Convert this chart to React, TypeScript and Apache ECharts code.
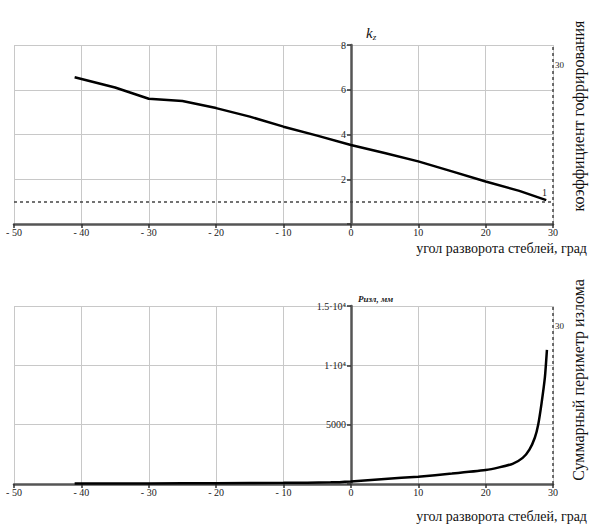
import React, { useEffect, useRef } from "react";
import * as echarts from "echarts";

const angleTop = [-41, -35, -30, -25, -20, -15, -10, -5, 0, 5, 10, 15, 20, 25, 29];
const kzValues = [6.56, 6.1, 5.6, 5.5, 5.18, 4.8, 4.35, 3.95, 3.53, 3.17, 2.8, 2.35, 1.9, 1.48, 1.07];
const angleBottom = [-41, -30, -20, -10, -3, 0, 5, 10, 15, 20, 22, 24, 25.5, 26.5, 27.3, 27.8, 28.3, 28.8, 29.1];
const perimeterValues = [40, 50, 70, 100, 140, 220, 420, 620, 880, 1180, 1400, 1700, 2200, 2900, 3900, 5000, 6800, 9000, 11300];
const bottomTickLabels: Record<number, string> = { 5000: "5000", 10000: "1·10⁴", 15000: "1.5·10⁴" };
const kzRef = 1;

const SERIF = "'Liberation Serif', 'DejaVu Serif', serif";

export default function App() {
  const ref = useRef<HTMLDivElement>(null);
  useEffect(() => {
    const chart = echarts.init(ref.current!, null, { renderer: "svg" });
    const GRID_LEFT = 14;
    const GRID_W = 539;
    const zeroOffset = -Math.round((50 / 80) * GRID_W);
    const xAxisCommon = (gridIndex: number) => ({
      type: "value" as const,
      gridIndex,
      min: -50,
      max: 30,
      interval: 10,
      axisLine: { onZero: true, lineStyle: { color: "#555", width: 2.5 } },
      axisTick: { show: true, inside: false, length: 4, lineStyle: { color: "#333", width: 1.5 } },
      axisLabel: {
        color: "#222",
        fontSize: 10,
        fontFamily: SERIF,
        margin: 3,
        formatter: (v: number) => (v < 0 ? "- " + Math.abs(v) : String(v)),
      },
      splitLine: { show: true, lineStyle: { color: "#c8c8c8", width: 1 } },
    });
    const yAxisCommon = (gridIndex: number, max: number, interval: number, fmt: (v: number) => string) => ({
      type: "value" as const,
      gridIndex,
      min: 0,
      max,
      interval,
      position: "left" as const,
      offset: zeroOffset,
      axisLine: { show: true, onZero: false, lineStyle: { color: "#555", width: 2.5 } },
      axisTick: { show: true, length: 4, lineStyle: { color: "#333", width: 1.5 } },
      axisLabel: { color: "#222", fontSize: 10, fontFamily: SERIF, margin: 5, formatter: fmt },
      splitLine: { show: true, lineStyle: { color: "#c8c8c8", width: 1 } },
    });
    chart.setOption({
      animation: false,
      backgroundColor: "#fff",
      grid: [
        { left: GRID_LEFT, width: GRID_W, top: 45, height: 179, outerBoundsMode: "none", containLabel: false },
        { left: GRID_LEFT, width: GRID_W, top: 306, height: 178, outerBoundsMode: "none", containLabel: false },
      ],
      xAxis: [xAxisCommon(0), xAxisCommon(1)],
      yAxis: [
        yAxisCommon(0, 8, 2, (v: number) => (v === 0 ? "" : String(v))),
        yAxisCommon(1, 15000, 5000, (v: number) => bottomTickLabels[v] || ""),
      ],
      series: [
        {
          type: "line",
          xAxisIndex: 0,
          yAxisIndex: 0,
          data: angleTop.map((x, i) => [x, kzValues[i]]),
          showSymbol: false,
          lineStyle: { color: "#000", width: 2.5 },
          markLine: {
            silent: true,
            symbol: "none",
            label: { show: false },
            lineStyle: { color: "#444", type: [3, 3], width: 1.5 },
            data: [{ yAxis: kzRef }, { xAxis: 30 }],
          },
        },
        {
          type: "line",
          xAxisIndex: 1,
          yAxisIndex: 1,
          data: angleBottom.map((x, i) => [x, perimeterValues[i]]),
          showSymbol: false,
          smooth: 0.2,
          lineStyle: { color: "#000", width: 2.5 },
          markLine: {
            silent: true,
            symbol: "none",
            label: { show: false },
            lineStyle: { color: "#444", type: [3, 3], width: 1.5 },
            data: [{ xAxis: 30 }],
          },
        },
      ],
      graphic: [
        {
          type: "text",
          x: 366,
          y: 24,
          style: {
            text: "{k|k}{s|z}",
            rich: {
              k: { fontFamily: SERIF, fontStyle: "italic", fontSize: 15, fill: "#111" },
              s: { fontFamily: SERIF, fontStyle: "italic", fontSize: 9, fill: "#111", verticalAlign: "bottom", padding: [8, 0, 0, 0] },
            },
          },
        },
        {
          type: "text",
          x: 358,
          y: 294,
          style: { text: "Pизл, мм", font: `italic bold 9px ${SERIF}`, fill: "#222" },
        },
        {
          type: "text",
          x: 542,
          y: 187,
          style: { text: "1", font: `10px ${SERIF}`, fill: "#222" },
        },
        {
          type: "text",
          x: 555,
          y: 60,
          style: { text: "30", font: `9px ${SERIF}`, fill: "#222" },
        },
        {
          type: "text",
          x: 555,
          y: 321,
          style: { text: "30", font: `9px ${SERIF}`, fill: "#222" },
        },
        {
          type: "text",
          x: 587,
          y: 241,
          style: { text: "угол разворота стеблей, град", font: `14px ${SERIF}`, fill: "#111", align: "right" },
        },
        {
          type: "text",
          x: 587,
          y: 509,
          style: { text: "угол разворота стеблей, град", font: `14px ${SERIF}`, fill: "#111", align: "right" },
        },
        {
          type: "text",
          x: 570,
          y: 116,
          rotation: Math.PI / 2,
          style: { text: "коэффициент гофрирования", font: `16px ${SERIF}`, fill: "#111", align: "center", verticalAlign: "top" },
        },
        {
          type: "text",
          x: 570,
          y: 380,
          rotation: Math.PI / 2,
          style: { text: "Суммарный периметр излома", font: `16px ${SERIF}`, fill: "#111", align: "center", verticalAlign: "top" },
        },
      ],
    });
    return () => chart.dispose();
  }, []);
  return (
    <div
      ref={ref}
      style={{ position: "fixed", left: 0, top: 0, width: 590, height: 524, background: "#fff" }}
    />
  );
}
